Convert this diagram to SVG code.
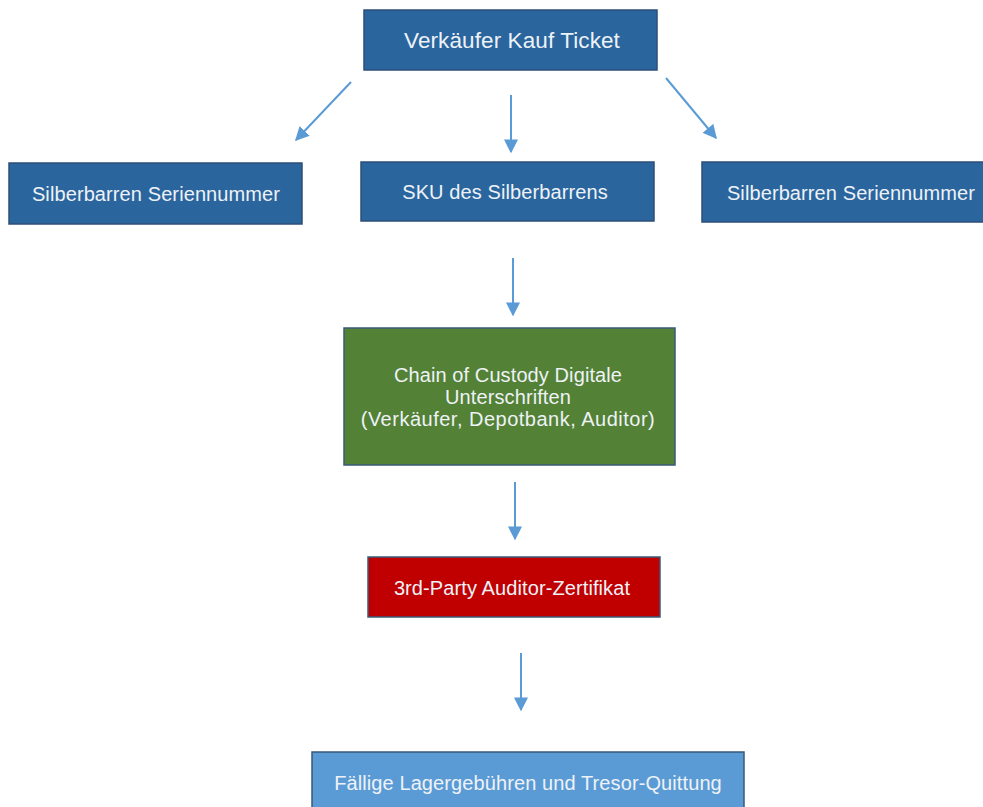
<svg xmlns="http://www.w3.org/2000/svg" width="983" height="807" viewBox="0 0 983 807">
<defs>
<style>
.b{fill:#2A659E;stroke:#2E4F78;stroke-width:1.5}
.g{fill:#538135;stroke:#3A5A7A;stroke-width:1.5}
.r{fill:#C00000;stroke:#3A5A7A;stroke-width:1.5}
.l{fill:#5B9BD5;stroke:#3A5A7A;stroke-width:1.5}
text{font-family:"Liberation Sans",Arial,sans-serif;fill:#EEF2F7;text-anchor:middle;dominant-baseline:central;font-size:20px;letter-spacing:0.1px}
.c line{stroke:#5B9BD5;stroke-width:2;marker-end:url(#ah)}
</style>
<marker id="ah" viewBox="0 0 10 10" refX="9" refY="5" markerWidth="7" markerHeight="7" orient="auto" markerUnits="strokeWidth">
<path d="M0,0 L10,5 L0,10 z" fill="#5B9BD5"/>
</marker>
</defs>
<rect width="983" height="807" fill="#ffffff"/>
<g id="n1"><rect class="b" x="364" y="10" width="293" height="60"/><text x="512" y="40" style="font-size:22.5px">Verkäufer Kauf Ticket</text></g>
<g id="n2"><rect class="b" x="9" y="163" width="293" height="61"/><text x="156" y="193.5">Silberbarren Seriennummer</text></g>
<g id="n3"><rect class="b" x="361" y="162" width="293" height="59"/><text x="505" y="192">SKU des Silberbarrens</text></g>
<g id="n4"><rect class="b" x="702" y="162" width="293" height="60"/><text x="851" y="193">Silberbarren Seriennummer</text></g>
<g id="n5"><rect class="g" x="344" y="328" width="331" height="137"/><text x="508" y="375">Chain of Custody Digitale</text><text x="508" y="397">Unterschriften</text><text x="508" y="419" style="letter-spacing:0.5px">(Verkäufer, Depotbank, Auditor)</text></g>
<g id="n6"><rect class="r" x="368" y="557" width="292" height="60"/><text x="512" y="588">3rd-Party Auditor-Zertifikat</text></g>
<g id="n7"><rect class="l" x="312" y="752" width="432" height="70"/><text x="528" y="783">Fällige Lagergebühren und Tresor-Quittung</text></g>
<g class="c" id="connectors">
<line x1="351" y1="82" x2="296" y2="140"/>
<line x1="511" y1="95" x2="511" y2="152"/>
<line x1="666" y1="78" x2="716" y2="138"/>
<line x1="513" y1="258" x2="513" y2="315"/>
<line x1="515" y1="482" x2="515" y2="539"/>
<line x1="521" y1="653" x2="521" y2="710"/>
</g>
</svg>
